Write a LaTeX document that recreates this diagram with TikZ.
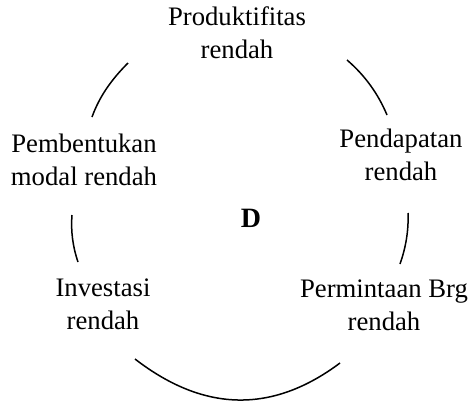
\documentclass[tikz,border=0pt]{standalone}
\usepackage{fontspec}
\setmainfont{Liberation Serif}
\begin{document}
\begin{tikzpicture}[x=1pt,y=-1pt,
  lbl/.style={anchor=base,align=center,inner sep=0pt,font=\fontsize{26.7}{32.5}\selectfont},
  arc/.style={line width=1.5pt}]
\useasboundingbox (0,0) rectangle (470,402);
\node[lbl] (prod) at (237,58) {Produktifitas\\rendah};
\node[lbl] (pend) at (401,180) {Pendapatan\\rendah};
\node[lbl] (perm) at (384,330) {Permintaan Brg\\rendah};
\node[lbl] (inv) at (103,329) {Investasi\\rendah};
\node[lbl] (pemb) at (84,185) {Pembentukan\\modal rendah};
\node[lbl,font=\fontsize{28}{32}\selectfont\bfseries] (d) at (251,227) {D};
\coordinate (a1) at (347,60);
\coordinate (a2) at (387,115);
\coordinate (b1) at (408,213);
\coordinate (b2) at (400,264);
\coordinate (c1) at (340,363);
\coordinate (c2) at (135,359);
\coordinate (e1) at (78,262);
\coordinate (e2) at (72,215);
\coordinate (f1) at (92,117);
\coordinate (f2) at (128,63);
\draw[arc] (a1) .. controls (364.7,75.2) and (378,93.5) .. (a2);
\draw[arc] (b1) .. controls (408.7,230) and (406,247) .. (b2);
\draw[arc] (c1) .. controls (272.3,413.7) and (204,412.3) .. (c2);
\draw[arc] (e1) .. controls (72.7,246.3) and (70.7,230.7) .. (e2);
\draw[arc] (f1) .. controls (99.6,96.1) and (111.6,79.4) .. (f2);
\end{tikzpicture}
\end{document}
